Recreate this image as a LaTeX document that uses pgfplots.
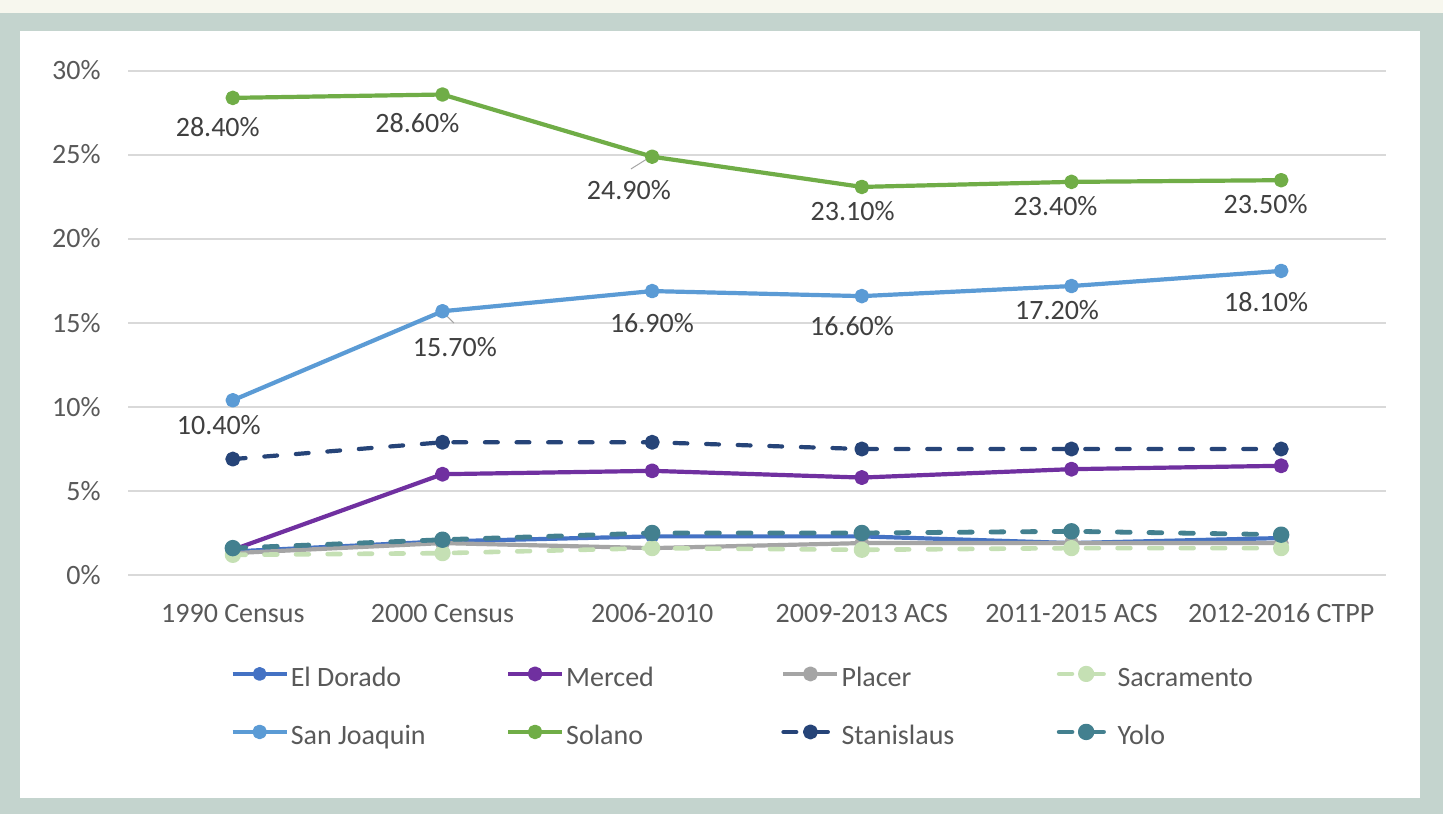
\documentclass[border=0pt]{standalone}
\usepackage{pgfplots}
\pgfplotsset{compat=1.18}
\usepackage{fontspec}
\setmainfont{Carlito}
\definecolor{cEl}{HTML}{4472C4}
\definecolor{cMe}{HTML}{7030A0}
\definecolor{cPl}{HTML}{A5A5A5}
\definecolor{cSa}{HTML}{C5E0B4}
\definecolor{cSJ}{HTML}{5B9BD5}
\definecolor{cSo}{HTML}{70AD47}
\definecolor{cSt}{HTML}{264478}
\definecolor{cYo}{HTML}{43808F}
\definecolor{cframe}{HTML}{C4D4CE}
\definecolor{cream}{HTML}{F7F7EE}
\definecolor{ctick}{HTML}{595959}
\definecolor{clbl}{HTML}{404040}
\definecolor{cgrid}{HTML}{D9D9D9}
\begin{document}
\begin{tikzpicture}
\fill[cream] (0pt,400.5pt) rectangle (721.5pt,407pt);
\fill[cframe] (0pt,0pt) rectangle (721.5pt,400.5pt);
\fill[white] (10pt,8pt) rectangle (710pt,391.5pt);
\begin{axis}[
  at={(64pt,119.5pt)}, anchor=south west,
  width=629pt, height=252pt, scale only axis,
  xmin=-0.5, xmax=5.5, ymin=0, ymax=30,
  clip=false,
  axis line style={draw=none},
  major tick length=0pt,
  xmajorgrids=false, ymajorgrids=true,
  y grid style={draw=cgrid, line width=0.75pt},
  ytick={0,5,10,15,20,25,30},
  yticklabel={\pgfmathprintnumber{\tick}\%},
  xtick={0,1,2,3,4,5},
  xticklabels={1990 Census,2000 Census,2006-2010,2009-2013 ACS,2011-2015 ACS,2012-2016 CTPP},
  /pgf/number format/assume math mode=true,
  ticklabel style={font=\fontsize{14pt}{17pt}\selectfont, text=ctick, inner sep=0pt},
  xticklabel style={anchor=base, yshift=-23.5pt},
  yticklabel style={anchor=base east, xshift=-13.5pt, yshift=-4.5pt},
  legend columns=4,
  legend style={at={(0.0812,-0.1806)}, anchor=north west, draw=none, fill=none,
    inner sep=0pt, row sep=15.5pt, column sep=0pt,
    font=\fontsize{14pt}{17pt}\selectfont, text=ctick,
    nodes={inner sep=0pt, text height=10pt, text depth=3.5pt}},
  legend cell align=left,
  legend image code/.code={\draw[mark repeat=2,mark phase=2,#1] plot coordinates {(0pt,3pt) (13.5pt,3pt) (27pt,3pt)};},
  every axis plot/.append style={line width=2.1pt, mark=*, line join=round},
]
\addplot[cEl, mark size=2.4pt] coordinates {(0,1.4) (1,2.0) (2,2.3) (3,2.3) (4,1.9) (5,2.2)};
\addlegendentry{\makebox[108.6pt][l]{\hspace{1pt}El Dorado}}
\addplot[cMe, mark size=2.7pt] coordinates {(0,1.5) (1,6.0) (2,6.2) (3,5.8) (4,6.3) (5,6.5)};
\addlegendentry{\makebox[108.6pt][l]{\hspace{1pt}Merced}}
\addplot[cPl, mark size=2.7pt] coordinates {(0,1.3) (1,1.9) (2,1.6) (3,1.9) (4,1.9) (5,1.9)};
\addlegendentry{\makebox[108.6pt][l]{\hspace{1pt}Placer}}
\addplot[cSa, mark size=2.9pt, line width=2.3pt, dash pattern=on 6.4pt off 9.4pt, line cap=round, mark options={solid}] coordinates {(0,1.2) (1,1.3) (2,1.6) (3,1.5) (4,1.6) (5,1.6)};
\addlegendentry{\makebox[108.6pt][l]{\hspace{1pt}Sacramento}}
\addplot[cSJ, mark size=2.6pt] coordinates {(0,10.4) (1,15.7) (2,16.9) (3,16.6) (4,17.2) (5,18.1)};
\addlegendentry{\makebox[108.6pt][l]{\hspace{1pt}San Joaquin}}
\addplot[cSo, mark size=2.6pt] coordinates {(0,28.4) (1,28.6) (2,24.9) (3,23.1) (4,23.4) (5,23.5)};
\addlegendentry{\makebox[108.6pt][l]{\hspace{1pt}Solano}}
\addplot[cSt, mark size=2.7pt, dash pattern=on 6.4pt off 9.4pt, line cap=round, mark options={solid}] coordinates {(0,6.9) (1,7.9) (2,7.9) (3,7.5) (4,7.5) (5,7.5)};
\addlegendentry{\makebox[108.6pt][l]{\hspace{1pt}Stanislaus}}
\addplot[cYo, mark size=2.9pt, line width=2.4pt, dash pattern=on 6.4pt off 9.4pt, line cap=round, mark options={solid}] coordinates {(0,1.6) (1,2.1) (2,2.5) (3,2.5) (4,2.6) (5,2.4)};
\addlegendentry{\makebox[108.6pt][l]{\hspace{1pt}Yolo}}
% leader lines
\draw[cPl, line width=0.5pt] (axis cs:1.899,24.17) -- (axis cs:1.99,24.88);
\draw[cPl, line width=0.5pt] (axis cs:1.0,15.67) -- (axis cs:1.054,15.0);
% data labels
\begin{scope}[every node/.style={font=\fontsize{14pt}{17pt}\selectfont, text=clbl, inner sep=0pt}]
\node at (axis cs:-0.072,26.67) {28.40\%};
\node at (axis cs:0.880,26.9) {28.60\%};
\node at (axis cs:1.889,22.92) {24.90\%};
\node at (axis cs:2.956,21.67) {23.10\%};
\node at (axis cs:3.924,21.96) {23.40\%};
\node at (axis cs:4.926,22.08) {23.50\%};
\node at (axis cs:-0.067,8.93) {10.40\%};
\node at (axis cs:1.059,13.57) {15.70\%};
\node at (axis cs:1.999,15.0) {16.90\%};
\node at (axis cs:2.953,14.82) {16.60\%};
\node at (axis cs:3.931,15.77) {17.20\%};
\node at (axis cs:4.928,16.25) {18.10\%};
\end{scope}
\end{axis}
\pgfresetboundingbox
\useasboundingbox (0pt,0pt) rectangle (721.5pt,407pt);
\end{tikzpicture}
\end{document}
